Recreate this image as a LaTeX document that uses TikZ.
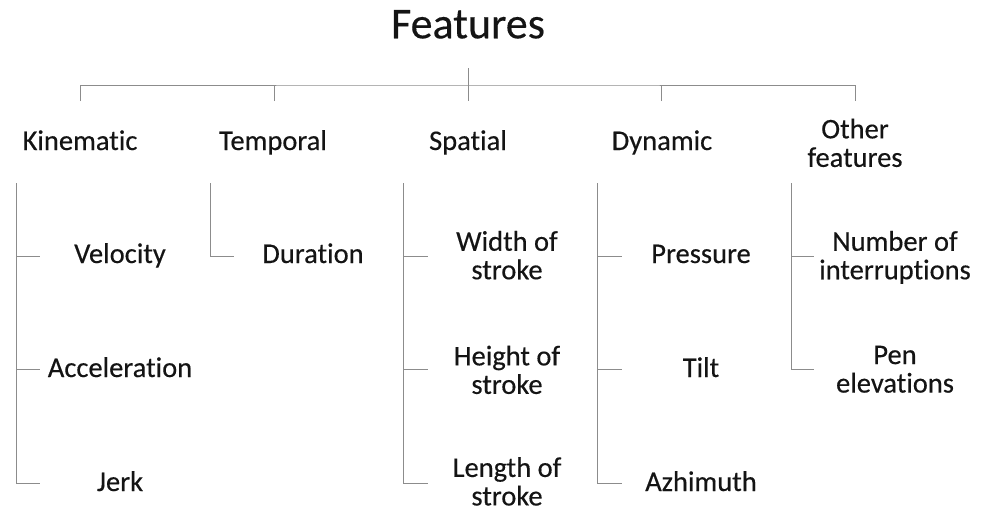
\documentclass[tikz,border=0pt]{standalone}
\usepackage{fontspec}
\setmainfont[Ligatures=NoCommon]{Carlito}
\newfontfamily\lblfont[Ligatures=NoCommon,FakeBold=0.35]{Carlito}
\newcommand\mytightlines{\lineskiplimit=-100pt\relax\lineskip=0pt\relax}
\begin{document}
\begin{tikzpicture}[x=1pt,y=-1pt,
  conn/.style={draw=black!45,line width=1pt},
  lbl/.style={font=\lblfont\fontsize{28.5}{28.5}\selectfont\mytightlines,text=black!92,align=center,inner sep=0pt},
  ttl/.style={font=\lblfont\fontsize{44}{48}\selectfont,text=black!92,inner sep=0pt,anchor=base}]
\useasboundingbox (0,0) rectangle (984,511);
\node[ttl] (root) at (468,38.3) {Features};
\coordinate (rs) at (468,68);
\coordinate (rb) at (468,85);
% single line: centre = baseline - 5.7 ; two lines: centre = first baseline + 8.55
\node[lbl] (kin) at (80,144.3) {\strut Kinematic};
\node[lbl] (tem) at (273,144.3) {\strut Temporal};
\node[lbl] (spa) at (468,144.3) {\strut Spatial};
\node[lbl] (dyn) at (662,144.3) {\strut Dynamic};
\node[lbl] (oth) at (855,146.9) {\strut Other\\\strut features};
% top bracket
\coordinate (d1) at (80,101);
\coordinate (d2) at (274,101);
\coordinate (d3) at (468,101);
\coordinate (d4) at (661,101);
\coordinate (d5) at (855,101);
\draw[conn] (d1) |- (rb) -| (d5);
\draw[conn] (rs) -- (d3);
\draw[conn] (d2) -- (d2 |- rb);
\draw[conn] (d4) -- (d4 |- rb);
% leaves
\node[lbl] (vel) at (120,257.3) {\strut Velocity};
\node[lbl] (acc) at (120,371.3) {\strut Acceleration};
\node[lbl] (jer) at (120,485.3) {\strut Jerk};
\node[lbl] (dur) at (313,257.3) {\strut Duration};
\node[lbl] (wid) at (507,259.3) {\strut Width of\\\strut stroke};
\node[lbl] (hei) at (507,373.9) {\strut Height of\\\strut stroke};
\node[lbl] (len) at (507,481.3) {\strut Length of\\stroke};
\node[lbl] (pre) at (701,257.3) {\strut Pressure};
\node[lbl] (til) at (701,371.3) {\strut Tilt};
\node[lbl] (azh) at (701,485.3) {\strut Azhimuth};
\node[lbl] (num) at (895,259.3) {\strut Number of\\\strut interruptions};
\node[lbl] (pen) at (895,372.6) {\strut Pen\\\strut elevations};
% vertical bars
\coordinate (k0) at (16,183);
\coordinate (t0) at (210,183);
\coordinate (s0) at (403,183);
\coordinate (y0) at (597,183);
\coordinate (o0) at (791,183);
\draw[conn] (k0) |- (40,483);
\draw[conn] (16,256) -- (40,256);
\draw[conn] (16,369) -- (40,369);
\draw[conn] (t0) |- (234,256);
\draw[conn] (s0) |- (428,483);
\draw[conn] (403,256) -- (428,256);
\draw[conn] (403,369) -- (428,369);
\draw[conn] (y0) |- (622,483);
\draw[conn] (597,256) -- (622,256);
\draw[conn] (597,369) -- (622,369);
\draw[conn] (o0) |- (814,369);
\draw[conn] (791,256) -- (814,256);
\end{tikzpicture}
\end{document}
